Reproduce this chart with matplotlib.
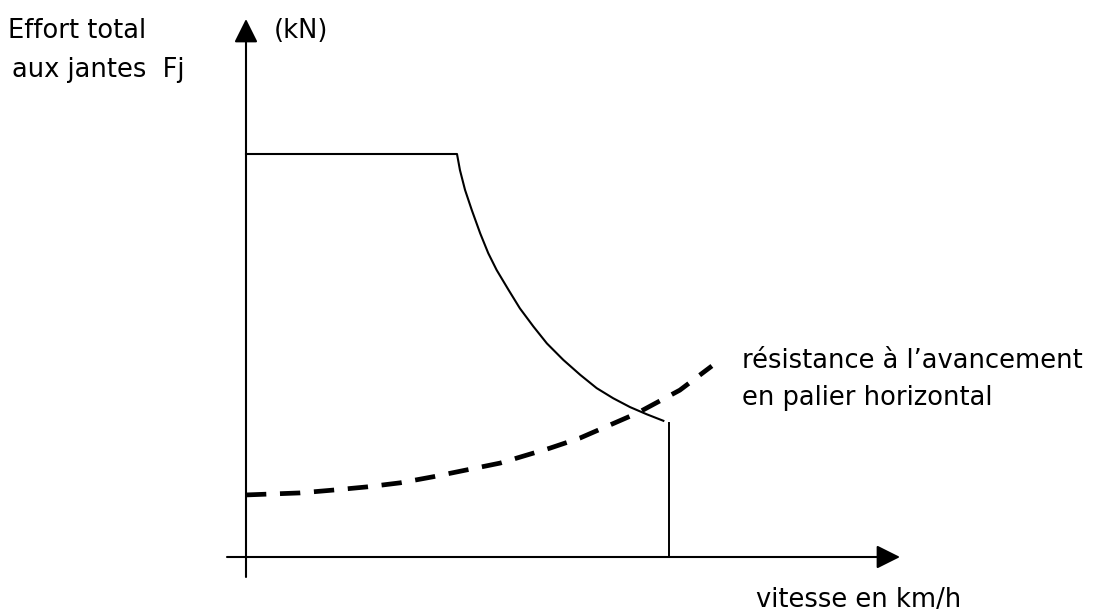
import matplotlib.pyplot as plt
import numpy as np

# effort aux jantes (courbe de traction) : palier puis hyperbole
vitesseTraction = [0, 50, 50.7, 51.9, 53.5, 55.5, 57.4, 59.4, 62.2, 64.9, 68.1, 71.3,
                   75.2, 79.2, 83.1, 87.0, 91.0, 95.0, 98.9]
effortTraction = [100, 100, 96.0, 91.1, 86.1, 80.3, 75.4, 71.2, 66.3, 61.7, 57.2, 53.0,
                  48.9, 45.2, 41.9, 39.4, 37.2, 35.4, 33.8]

# vitesse maxi
vitesseMax = [100.2, 100.2]
effortMax = [0, 33.3]

# resistance a l'avancement en palier horizontal
vitesseResistance = [0, 12.8, 20.6, 28.7, 36.5, 44.3, 60.2, 72.0, 79.1, 92.7, 102.8, 110.4]
effortResistance = [15.4, 15.9, 16.6, 17.4, 18.4, 19.9, 23.3, 27.0, 29.5, 35.7, 41.4, 47.4]

W, H = 1098, 613
ORIGIN_X, ORIGIN_Y = 246, 557
SX, SY = 4.22, 4.03


def px2data(px, py):
    return (px - ORIGIN_X) / SX, (ORIGIN_Y - py) / SY


def main():
    plt.rcParams['font.family'] = ['DejaVu Sans']
    fig = plt.figure(figsize=(W / 100, H / 100), dpi=100)
    ax = fig.add_axes([0, 0, 1, 1])
    x0, y0 = px2data(0, H)
    x1, y1 = px2data(W, 0)
    ax.set_xlim(x0, x1)
    ax.set_ylim(y0, y1)
    ax.axis('off')

    # axes avec fleches
    arrow = dict(arrowstyle='-|>,head_length=0.8,head_width=0.4',
                 mutation_scale=18, lw=1.5, color='black', shrinkA=0, shrinkB=0)
    ax.annotate('', xy=px2data(900, ORIGIN_Y), xytext=px2data(227, ORIGIN_Y), arrowprops=arrow)
    ax.annotate('', xy=px2data(ORIGIN_X, 19), xytext=px2data(ORIGIN_X, 577), arrowprops=arrow)

    ax.plot(vitesseTraction, effortTraction, color='black', lw=1.5)
    ax.plot(vitesseMax, effortMax, color='black', lw=1.4)
    ax.plot(vitesseResistance, effortResistance, color='black', lw=3.4,
            ls=(0, (4.3, 2.9)), dash_capstyle='butt')

    kw = dict(fontsize=18.5, va='baseline', ha='left', color='black')
    fig.text(8 / W, 1 - 38 / H, 'Effort total', **kw)
    fig.text(12 / W, 1 - 77 / H, 'aux jantes  Fj', **kw)
    fig.text(274 / W, 1 - 38 / H, '(kN)', **kw)
    fig.text(742 / W, 1 - 368 / H, 'résistance à l’avancement', **kw)
    fig.text(742 / W, 1 - 405 / H, 'en palier horizontal', **kw)
    fig.text(756 / W, 1 - 607 / H, 'vitesse en km/h', **kw)

    fig.savefig('out.png', dpi=100)
    plt.close(fig)


if __name__ == '__main__':
    main()
